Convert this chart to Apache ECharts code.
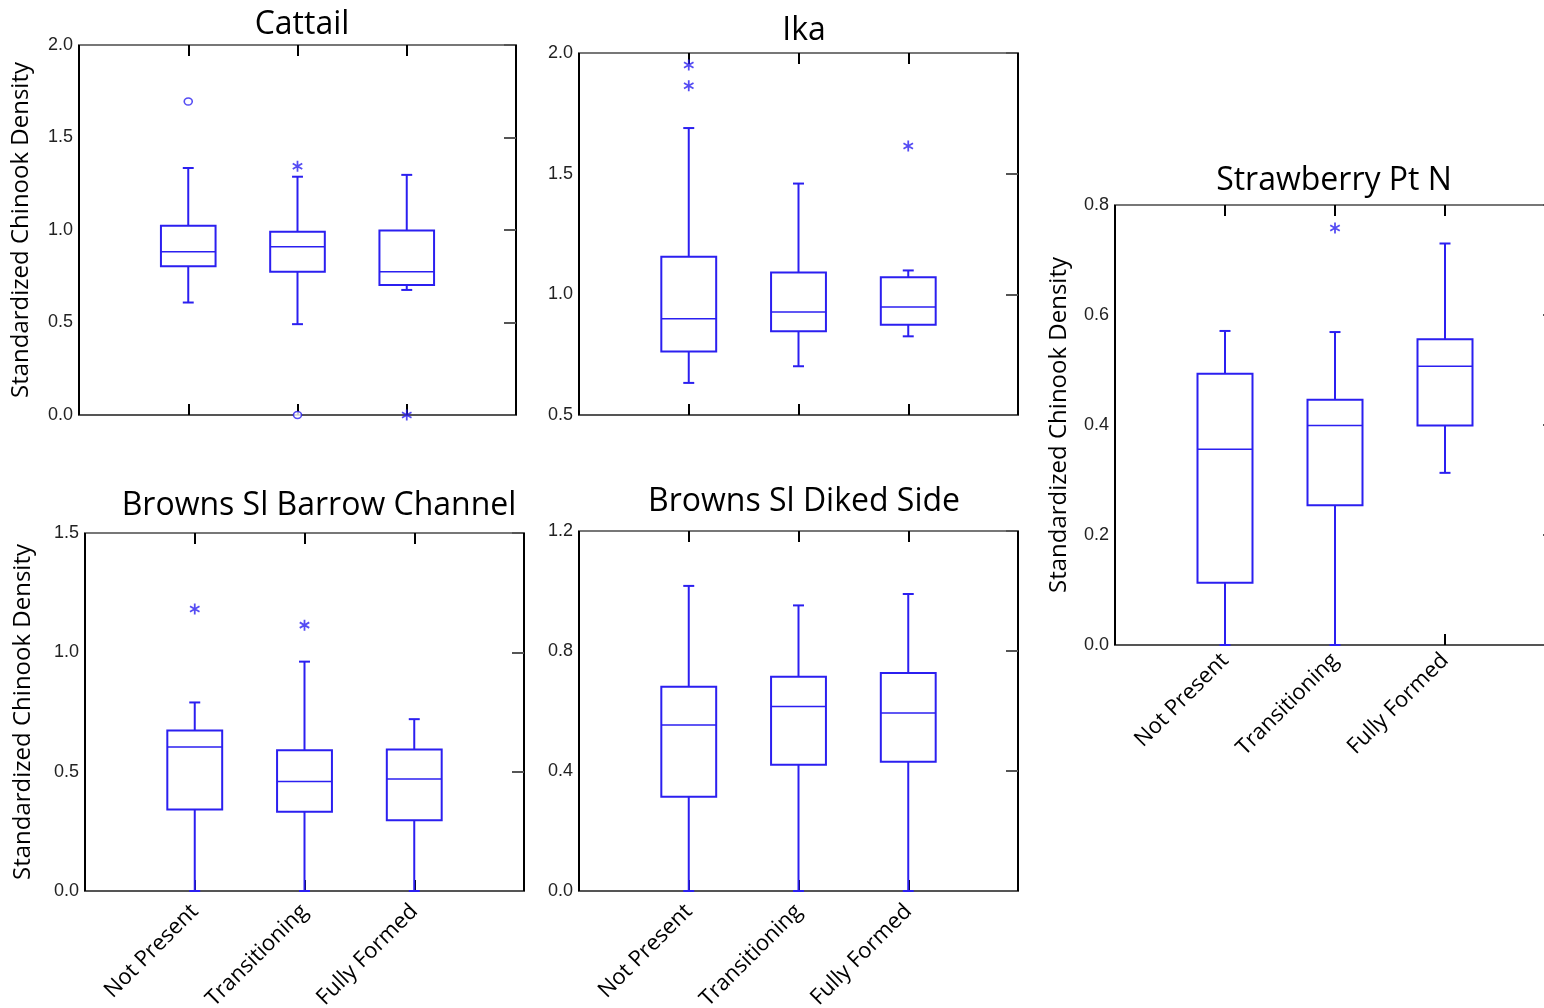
<!DOCTYPE html>
<html>
<head>
<meta charset="utf-8">
<script src="https://cdn.jsdelivr.net/npm/echarts@6/dist/echarts.min.js"></script>
<style>
	html, body { margin: 0; background: #fff; }
	#chart { width: 1544px; height: 1008px; }
</style>
</head>
<body>
<div id="chart"></div>
<script>
const categories = ['Not Present', 'Transitioning', 'Fully Formed'];

// each box: [min, Q1, median, Q3, max], one per category
const cattailBoxes = [[0.608, 0.804, 0.882, 1.023, 1.335], [0.491, 0.775, 0.909, 0.990, 1.288], [0.676, 0.703, 0.775, 0.997, 1.298]];
const cattailStars = [[2, 1.344], [3, 0]];
const cattailCircles = [[1, 1.695], [2, 0]];
const cattailYTicks = [0.0, 0.5, 1.0, 1.5, 2.0];

const ikaBoxes = [[0.633, 0.763, 0.899, 1.156, 1.689], [0.702, 0.847, 0.927, 1.090, 1.459], [0.826, 0.874, 0.947, 1.071, 1.099]];
const ikaStars = [[1, 1.950], [1, 1.864], [3, 1.615]];
const ikaCircles = [];
const ikaYTicks = [0.5, 1.0, 1.5, 2.0];

const strawberryBoxes = [[0, 0.113, 0.356, 0.493, 0.571], [0, 0.254, 0.399, 0.446, 0.569], [0.313, 0.399, 0.507, 0.556, 0.730]];
const strawberryStars = [[2, 0.758]];
const strawberryCircles = [];
const strawberryYTicks = [0.0, 0.2, 0.4, 0.6, 0.8];

const barrowBoxes = [[0, 0.342, 0.603, 0.672, 0.790], [0, 0.332, 0.459, 0.590, 0.961], [0, 0.296, 0.469, 0.593, 0.720]];
const barrowStars = [[1, 1.182], [2, 1.114]];
const barrowCircles = [];
const barrowYTicks = [0.0, 0.5, 1.0, 1.5];

const dikedBoxes = [[0, 0.314, 0.553, 0.681, 1.017], [0, 0.421, 0.615, 0.714, 0.952], [0, 0.431, 0.593, 0.727, 0.990]];
const dikedStars = [];
const dikedCircles = [];
const dikedYTicks = [0.0, 0.4, 0.8, 1.2];

const BLUE = '#2b1ff0';
const yName = 'Standardized Chinook Density';
// asterisk marker: three bars, same winding so the overlaps stay filled
const STAR = 'path://M-1.6,-10L1.6,-10L1.6,10L-1.6,10Z' +
	'M7.86,6.39L-9.46,-3.61L-7.86,-6.39L9.46,3.61Z' +
	'M9.46,-3.61L-7.86,6.39L-9.46,3.61L7.86,-6.39Z';

const panels = [
	{ title: 'Cattail', boxes: cattailBoxes, stars: cattailStars, circles: cattailCircles, yTicks: cattailYTicks,
		grid: { left: 79, top: 45, width: 437, height: 370 }, titlePos: [297, 4], showName: true, nameGap: 46, showCats: false },
	{ title: 'Ika', boxes: ikaBoxes, stars: ikaStars, circles: ikaCircles, yTicks: ikaYTicks,
		grid: { left: 579, top: 53, width: 439, height: 362 }, titlePos: [799, 10], showName: false, showCats: false },
	{ title: 'Strawberry Pt N', boxes: strawberryBoxes, stars: strawberryStars, circles: strawberryCircles, yTicks: strawberryYTicks,
		grid: { left: 1115, top: 205, width: 440, height: 440 }, titlePos: [1329, 160], showName: true, nameGap: 44, showCats: true, catMargin: 12 },
	{ title: 'Browns Sl Barrow Channel', boxes: barrowBoxes, stars: barrowStars, circles: barrowCircles, yTicks: barrowYTicks,
		grid: { left: 85, top: 533, width: 439, height: 358 }, titlePos: [314, 485], showName: true, nameGap: 50, showCats: true, catMargin: 17 },
	{ title: 'Browns Sl Diked Side', boxes: dikedBoxes, stars: dikedStars, circles: dikedCircles, yTicks: dikedYTicks,
		grid: { left: 579, top: 531, width: 439, height: 360 }, titlePos: [799, 481], showName: false, showCats: true, catMargin: 17 }
];

function renderBox(params, api) {
	const x = api.value(0);
	const band = api.size([1, 0])[0];
	const half = band * 0.25;
	const cap = band * 0.05;
	const ys = [1, 2, 3, 4, 5].map(i => api.coord([x, api.value(i)])[1]);
	const cx = api.coord([x, 0])[0];
	const line = (x1, y1, x2, y2, w) => ({
		type: 'line', shape: { x1, y1, x2, y2 }, style: { stroke: BLUE, lineWidth: w || 2 }
	});
	return {
		type: 'group',
		children: [
			{ type: 'rect', shape: { x: cx - half, y: ys[3], width: half * 2, height: ys[1] - ys[3] },
				style: { stroke: BLUE, fill: 'none', lineWidth: 2 } },
			line(cx - half, ys[2], cx + half, ys[2], 1.5),
			line(cx, ys[3], cx, ys[4]),
			line(cx, ys[1], cx, ys[0]),
			line(cx - cap, ys[4], cx + cap, ys[4]),
			line(cx - cap, ys[0], cx + cap, ys[0])
		]
	};
}

const option = { animation: false, backgroundColor: '#fff', title: [], grid: [], xAxis: [], yAxis: [], series: [] };

panels.forEach((p, i) => {
	const yMin = p.yTicks[0];
	const yMax = p.yTicks[p.yTicks.length - 1];
	const yInt = p.yTicks[1] - p.yTicks[0];
	option.title.push({
		text: p.title, left: p.titlePos[0], top: p.titlePos[1], textAlign: 'center',
		textStyle: { fontFamily: 'Open Sans', fontSize: 32, fontWeight: 'normal', color: '#000' }
	});
	// keep the grid exactly where it is put, even past the canvas edge
	option.grid.push(Object.assign({ containLabel: false, outerBoundsMode: 'none' }, p.grid));
	// bottom x axis with category labels at 1..3
	option.xAxis.push({
		type: 'value', gridIndex: i, min: 0, max: 4, interval: 1, position: 'bottom',
		axisLine: { show: true, onZero: false, lineStyle: { color: '#555', width: 2 } },
		axisTick: { show: true, inside: true, length: 11, lineStyle: { color: '#000', width: 2 } },
		splitLine: { show: false },
		axisLabel: {
			show: p.showCats, rotate: 45, margin: p.catMargin || 10, fontFamily: 'Open Sans', fontSize: 22, color: '#000',
			formatter: v => categories[v - 1] || ''
		}
	});
	// top x axis, ticks only
	option.xAxis.push({
		type: 'value', gridIndex: i, min: 0, max: 4, interval: 1, position: 'top',
		axisLine: { show: true, onZero: false, lineStyle: { color: '#777', width: 2 } },
		axisTick: { show: true, inside: true, length: 11, lineStyle: { color: '#000', width: 2 } },
		splitLine: { show: false }, axisLabel: { show: false }
	});
	option.yAxis.push({
		type: 'value', gridIndex: i, min: yMin, max: yMax, interval: yInt, position: 'left',
		name: p.showName ? yName : '', nameLocation: 'middle', nameGap: p.nameGap || 40,
		nameTextStyle: { fontFamily: 'Open Sans', fontSize: 24, color: '#000' },
		axisLine: { show: true, onZero: false, lineStyle: { color: '#000', width: 2 } },
		axisTick: { show: false }, splitLine: { show: false },
		axisLabel: { margin: 6, fontFamily: 'Liberation Sans', fontSize: 18, color: '#222', formatter: v => v.toFixed(1) }
	});
	option.yAxis.push({
		type: 'value', gridIndex: i, min: yMin, max: yMax, interval: yInt, position: 'right',
		axisLine: { show: true, onZero: false, lineStyle: { color: '#000', width: 2 } },
		axisTick: { show: true, inside: true, length: 12, lineStyle: { color: '#555', width: 2 } },
		splitLine: { show: false }, axisLabel: { show: false }
	});
	option.series.push({
		type: 'custom', xAxisIndex: i * 2, yAxisIndex: i * 2, renderItem: renderBox,
		encode: { x: 0, y: [1, 2, 3, 4, 5] }, z: 5,
		data: p.boxes.map((b, k) => [k + 1].concat(b))
	});
	option.series.push({
		type: 'scatter', xAxisIndex: i * 2, yAxisIndex: i * 2, data: p.stars,
		symbol: STAR, symbolKeepAspect: true, symbolSize: 11, itemStyle: { color: BLUE }, z: 6
	});
	option.series.push({
		type: 'scatter', xAxisIndex: i * 2, yAxisIndex: i * 2, data: p.circles,
		symbol: 'circle', symbolSize: [8, 7], itemStyle: { color: '#fff', borderColor: BLUE, borderWidth: 1.5 }, z: 6
	});
});

const chart = echarts.init(document.getElementById('chart'));
chart.setOption(option);
</script>
</body>
</html>
